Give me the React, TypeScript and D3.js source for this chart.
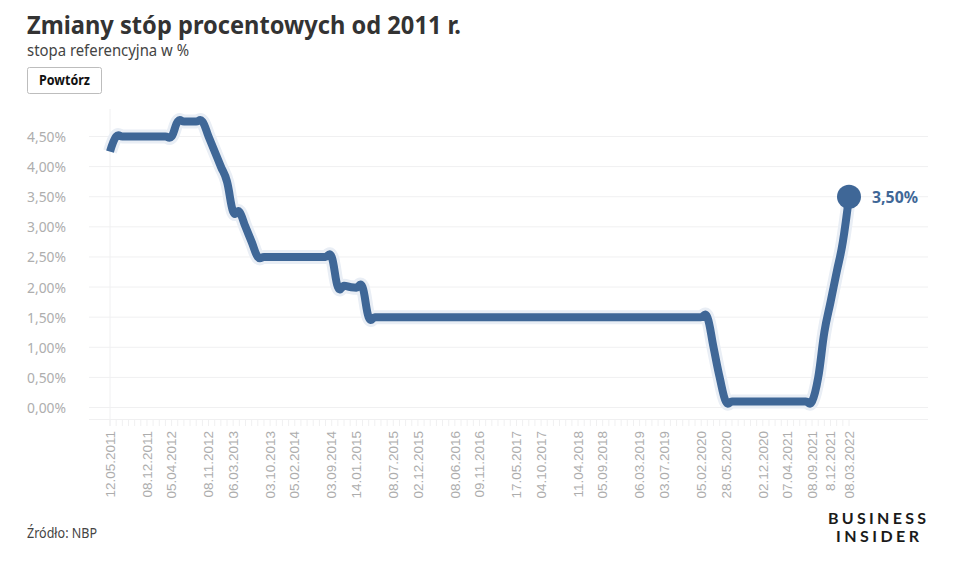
import React from "react";
import * as d3 from "d3";

const rates: number[] = [
  4.25, 4.5, 4.5, 4.5, 4.5, 4.5, 4.5, 4.5, 4.5, 4.5, 4.5,
  4.75, 4.75, 4.75, 4.75, 4.75, 4.5, 4.25, 4.0, 3.75, 3.25, 3.25, 3.0, 2.75, 2.5,
  2.5, 2.5, 2.5, 2.5, 2.5, 2.5, 2.5, 2.5, 2.5, 2.5, 2.5, 2.5,
  2.0, 2.02, 2.0, 1.99, 2.0, 1.5,
  1.5, 1.5, 1.5, 1.5, 1.5, 1.5, 1.5, 1.5, 1.5, 1.5, 1.5, 1.5, 1.5, 1.5, 1.5, 1.5, 1.5,
  1.5, 1.5, 1.5, 1.5, 1.5, 1.5, 1.5, 1.5, 1.5, 1.5, 1.5, 1.5, 1.5, 1.5, 1.5, 1.5, 1.5,
  1.5, 1.5, 1.5, 1.5, 1.5, 1.5, 1.5, 1.5, 1.5, 1.5, 1.5, 1.5, 1.5, 1.5, 1.5, 1.5, 1.5,
  1.5, 1.5, 1.5, 1.5, 1.0, 0.5, 0.1,
  0.1, 0.1, 0.1, 0.1, 0.1, 0.1, 0.1, 0.1, 0.1, 0.1, 0.1, 0.1, 0.1, 0.1,
  0.5, 1.25, 1.75, 2.25, 2.75, 3.5,
];

const tickIndexes: number[] = [0, 6, 10, 16, 20, 26, 30, 36, 40, 46, 50, 56, 60, 66, 70, 76, 80, 86, 90, 96, 100, 106, 110, 114, 117, 120];
const tickLabels: string[] = [
  "12.05.2011", "08.12.2011", "05.04.2012", "08.11.2012", "06.03.2013", "03.10.2013", "05.02.2014",
  "03.09.2014", "14.01.2015", "08.07.2015", "02.12.2015", "08.06.2016", "09.11.2016", "17.05.2017",
  "04.10.2017", "11.04.2018", "05.09.2018", "06.03.2019", "03.07.2019", "05.02.2020", "28.05.2020",
  "02.12.2020", "07.04.2021", "08.09.2021", "8.12.2021", "08.03.2022",
];
const yTicks: number[] = [0, 0.5, 1, 1.5, 2, 2.5, 3, 3.5, 4, 4.5];

const title = "Zmiany stóp procentowych od 2011 r.";
const subtitle = "stopa referencyjna w %";
const buttonLabel = "Powtórz";
const source = "Źródło: NBP";

const BLUE = "#3f6797";
const GRID = "#f0f0f1";
const SANS = "Lato, 'Open Sans', sans-serif";
const NOTO = "'Noto Sans', sans-serif";

const fmt = (v: number) => v.toFixed(2).replace(".", ",") + "%";

export default function App() {
  const indexes = rates.map((_, i) => i);
  const x = d3.scalePoint<number>().domain(indexes).range([110, 849]);
  const y = d3.scaleLinear().domain([0, 4.5]).range([407.5, 136.5]);
  const line = d3
    .line<number>()
    .x((_, i) => x(i) as number)
    .y((d) => y(d))
    .curve(d3.curveCardinal.tension(-0.25));
  const path = line(rates) as string;
  const lastIdx = rates.length - 1;
  const lastVal = rates[lastIdx];

  return (
    <svg width={962} height={562} style={{ position: "absolute", left: 0, top: 0, background: "#fff" }}>
      <text x={27} y={34} fontFamily={NOTO} fontWeight={700} fontSize={25} fill="#333" textLength={434} lengthAdjust="spacingAndGlyphs">{title}</text>
      <text x={27} y={56} fontFamily={NOTO} fontSize={15.5} fill="#444" textLength={162} lengthAdjust="spacingAndGlyphs">{subtitle}</text>
      <rect x={27.5} y={67.5} width={74} height={26} rx={2} fill="#fff" stroke="#bdbdbd" />
      <text x={64.5} y={85} textAnchor="middle" fontFamily={NOTO} fontWeight={700} fontSize={13.5} fill="#111" textLength={51} lengthAdjust="spacingAndGlyphs">{buttonLabel}</text>

      {yTicks.map((t) => (
        <g key={t}>
          <line x1={89} x2={928} y1={y(t)} y2={y(t)} stroke={GRID} strokeWidth={1} />
          <text x={66} y={y(t) + 5.5} textAnchor="end" fontFamily={NOTO} fontSize={15} fill="#aeaeae" textLength={39} lengthAdjust="spacingAndGlyphs">{fmt(t)}</text>
        </g>
      ))}

      <line x1={110} x2={110} y1={109} y2={426} stroke={GRID} />
      <line x1={89} x2={928} y1={419.5} y2={419.5} stroke={GRID} />
      {indexes.map((i) => (
        <line key={i} x1={x(i)} x2={x(i)} y1={420} y2={426} stroke={GRID} />
      ))}
      {tickIndexes.map((ti, k) => (
        <text key={ti} transform={`translate(${x(ti)},431) rotate(-90)`} dy="0.35em" textAnchor="end" fontFamily="'Liberation Sans', Arial, sans-serif" fontSize={13.5} fill="#adadad">{tickLabels[k]}</text>
      ))}

      <path d={path} fill="none" stroke="#e9eef5" strokeWidth={14} strokeLinejoin="round" />
      <path d={path} fill="none" stroke={BLUE} strokeWidth={8} strokeLinejoin="round" />
      <circle cx={x(lastIdx)} cy={y(lastVal)} r={12} fill={BLUE} />
      <text x={872} y={y(lastVal) + 6} fontFamily={NOTO} fontWeight={700} fontSize={16} fill={BLUE} textLength={46} lengthAdjust="spacingAndGlyphs">{fmt(lastVal)}</text>

      <text x={27} y={538} fontFamily={NOTO} fontSize={14} fill="#444" textLength={70} lengthAdjust="spacingAndGlyphs">{source}</text>
      <text x={828} y={523.5} fontFamily={SANS} fontWeight={700} fontSize={16} fill="#1a1a1a" textLength={98} lengthAdjust="spacing">BUSINESS</text>
      <text x={836} y={542} fontFamily={SANS} fontWeight={700} fontSize={16} fill="#1a1a1a" textLength={83} lengthAdjust="spacing">INSIDER</text>
    </svg>
  );
}
